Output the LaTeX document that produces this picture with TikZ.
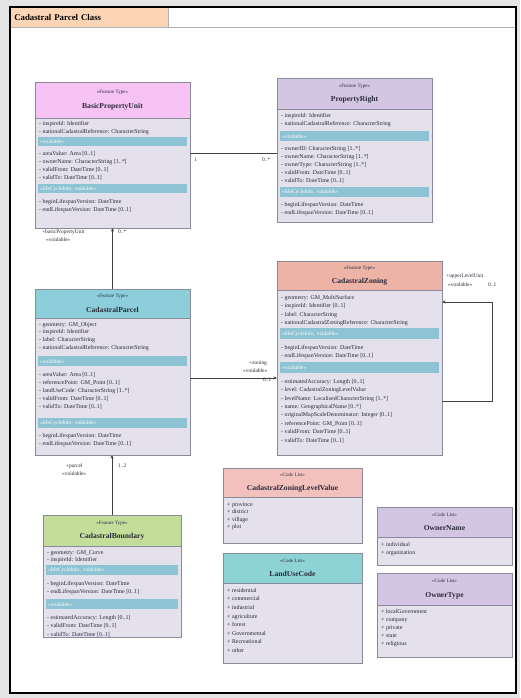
\documentclass[tikz,border=0pt]{standalone}
\usepackage{fontspec}
\setmainfont{Liberation Serif}
\usetikzlibrary{arrows.meta}
\definecolor{bodyc}{HTML}{E4E0EC}
\definecolor{barc}{HTML}{8EC3D3}
\definecolor{linec}{HTML}{8A8A9A}
\definecolor{txtc}{HTML}{2A2A3A}
\definecolor{hpink}{HTML}{F6C3F4}
\definecolor{hlav}{HTML}{D2C6E2}
\definecolor{hteal}{HTML}{8CCFDA}
\definecolor{hsalm}{HTML}{EEB3A7}
\definecolor{hgreen}{HTML}{C5DD9B}
\definecolor{hrose}{HTML}{F3C1BD}
\definecolor{hcyan}{HTML}{8DD3D6}
\definecolor{tabc}{HTML}{FBD5B5}
\tikzset{
  body/.style={draw=linec, fill=bodyc, line width=0.5pt, anchor=north west, inner sep=0, outer sep=0},
  head/.style={draw=linec, fill=#1, line width=0.5pt, anchor=north west, inner sep=0, outer sep=0, align=center, text=txtc},
  attr/.style={anchor=north west, inner sep=0, align=left, font=\fontsize{5.9}{#1}\selectfont, text=txtc},
  attr/.default=8,
  sbar/.style={fill=barc, anchor=north west, inner xsep=2pt, inner ysep=0, text width=#1, align=left, font=\fontsize{5.4}{6}\selectfont, text=white},
  conn/.style={draw=black!75, line width=0.6pt},
  tip/.style={-{Stealth[length=3.5pt,width=3pt]}},
  lbl/.style={inner sep=0, font=\fontsize{5.4}{6}\selectfont, text=txtc, anchor=west},
}
\newcommand{\hdr}[2]{{\fontsize{5}{6}\selectfont «#1»}\\[2.5pt]{\fontsize{7.6}{8}\selectfont\bfseries #2}}
\begin{document}
\begin{tikzpicture}[x=1pt,y=-1pt]
\useasboundingbox (0,0) rectangle (520,698);
\fill[black!10] (0,0) rectangle (520,698);
\fill[white] (10,7) rectangle (516,693);
\draw[black!30, line width=0.8pt] (10,27.5) -- (516,27.5);
\node[fill=tabc, draw=black!30, line width=0.5pt, anchor=north west, inner sep=0, minimum width=158, minimum height=20, text width=150, align=left, font=\fontsize{8.8}{9}\selectfont\bfseries] (title) at (10,7.5) {Cadastral Parcel Class};
\draw[black, line width=1.6pt] (10,7) rectangle (516,693);

% BasicPropertyUnit
\node[body, minimum width=155, minimum height=146] (bpu) at (35,82) {};
\node[head=hpink, minimum width=155, minimum height=36] (bpuh) at (35,82) {\hdr{Feature Type}{BasicPropertyUnit}};
\node[attr] (bpua1) at (39,121) {- inspireId: Identifier\\- nationalCadastralReference: CharacterString};
\node[sbar=145, minimum height=9] (bpub1) at (38,137) {«voidable»};
\node[attr] (bpua2) at (39,151) {- areaValue: Area [0..1]\\- ownerName: CharacterString [1..*]\\- validFrom: DateTime [0..1]\\- validTo: DateTime [0..1]};
\node[sbar=145, minimum height=9] (bpub2) at (38,184) {«lifeCycleInfo, voidable»};
\node[attr] (bpua3) at (39,199) {- beginLifespanVersion: DateTime\\- endLifespanVersion: DateTime [0..1]};

% PropertyRight
\node[body, minimum width=155, minimum height=144] (pr) at (277,78) {};
\node[head=hlav, minimum width=155, minimum height=31] (prh) at (277,78) {\hdr{Feature Type}{PropertyRight}};
\node[attr] (pra1) at (281,113) {- inspireId: Identifier\\- nationalCadastralReference: CharacterString};
\node[sbar=145, minimum height=10] (prb1) at (280,131) {«voidable»};
\node[attr] (pra2) at (281,146) {- ownerID: CharacterString [1..*]\\- ownerName: CharacterString [1..*]\\- ownerType: CharacterString [1..*]\\- validFrom: DateTime [0..1]\\- validTo: DateTime [0..1]};
\node[sbar=145, minimum height=10] (prb2) at (280,187) {«lifeCycleInfo, voidable»};
\node[attr] (pra3) at (281,202) {- beginLifespanVersion: DateTime\\- endLifespanVersion: DateTime [0..1]};

% CadastralParcel
\node[body, minimum width=155, minimum height=166] (parcel) at (35,289) {};
\node[head=hteal, minimum width=155, minimum height=29] (parcelh) at (35,289) {\hdr{Feature Type}{CadastralParcel}};
\node[attr=7.6] (pa1) at (39,322) {- geometry: GM\_Object\\- inspireId: Identifier\\- label: CharacterString\\- nationalCadastralReference: CharacterString};
\node[sbar=145, minimum height=10] (pb1) at (38,356) {«voidable»};
\node[attr] (pa2) at (39,372) {- areaValue: Area [0..1]\\- referencePoint: GM\_Point [0..1]\\- landUseCode: CharacterString [1..*]\\- validFrom: DateTime [0..1]\\- validTo: DateTime [0..1]};
\node[sbar=145, minimum height=10] (pb2) at (38,418) {«lifeCycleInfo, voidable»};
\node[attr] (pa3) at (39,433) {- beginLifespanVersion: DateTime\\- endLifespanVersion: DateTime [0..1]};

% CadastralZoning
\node[body, minimum width=165, minimum height=194] (zoning) at (277,261) {};
\node[head=hsalm, minimum width=165, minimum height=29] (zoningh) at (277,261) {\hdr{Feature Type}{CadastralZoning}};
\node[attr=8.4] (za1) at (281,295) {- geometry: GM\_MultiSurface\\- inspireId: Identifier [0..1]\\- label: CharacterString\\- nationalCadastralZoningReference: CharacterString};
\node[sbar=155, minimum height=11] (zb1) at (280,328) {«lifeCycleInfo, voidable»};
\node[attr=8.4] (za2) at (281,345) {- beginLifespanVersion: DateTime\\- endLifespanVersion: DateTime [0..1]};
\node[sbar=155, minimum height=11] (zb2) at (280,362) {«voidable»};
\node[attr=8.4] (za3) at (281,379) {- estimatedAccuracy: Length [0..1]\\- level: CadastralZoningLevelValue\\- levelName: LocalisedCharacterString [1..*]\\- name: GeographicalName [0..*]\\- originalMapScaleDenominator: Integer [0..1]\\- referencePoint: GM\_Point [0..1]\\- validFrom: DateTime [0..1]\\- validTo: DateTime [0..1]};

% CadastralBoundary
\node[body, minimum width=138, minimum height=122] (bnd) at (43,515) {};
\node[head=hgreen, minimum width=138, minimum height=31] (bndh) at (43,515) {\hdr{Feature Type}{CadastralBoundary}};
\node[attr=7.5] (ba1) at (47,550) {- geometry: GM\_Curve\\- inspireId: Identifier};
\node[sbar=128, minimum height=10] (bb1) at (46,565) {«lifeCycleInfo, voidable»};
\node[attr=8] (ba2) at (47,581) {- beginLifespanVersion: DateTime\\- endLifespanVersion: DateTime [0..1]};
\node[sbar=128, minimum height=10] (bb2) at (46,599) {«voidable»};
\node[attr=8.5] (ba3) at (47,615) {- estimatedAccuracy: Length [0..1]\\- validFrom: DateTime [0..1]\\- validTo: DateTime [0..1]};

% CadastralZoningLevelValue
\node[body, minimum width=139, minimum height=75] (zlv) at (223,468) {};
\node[head=hrose, minimum width=139, minimum height=29] (zlvh) at (223,468) {\hdr{Code List}{CadastralZoningLevelValue}};
\node[attr=7.5] (zlva) at (227,502) {+ province\\+ district\\+ village\\+ plot};

% LandUseCode
\node[body, minimum width=139, minimum height=110] (luc) at (223,553) {};
\node[head=hcyan, minimum width=139, minimum height=30] (luch) at (223,553) {\hdr{Code List}{LandUseCode}};
\node[attr=8.6] (luca) at (227,588) {+ residential\\+ commercial\\+ industrial\\+ agriculture\\+ forest\\+ Governmental\\+ Recreational\\+ other};

% OwnerName
\node[body, minimum width=135, minimum height=58] (own) at (377,507) {};
\node[head=hlav, minimum width=135, minimum height=30] (ownh) at (377,507) {\hdr{Code List}{OwnerName}};
\node[attr=8] (owna) at (381,542) {+ individual\\+ organization};

% OwnerType
\node[body, minimum width=135, minimum height=84] (owt) at (377,573) {};
\node[head=hlav, minimum width=135, minimum height=32] (owth) at (377,573) {\hdr{Code List}{OwnerType}};
\node[attr=8] (owta) at (381,609) {+ localGovernment\\+ company\\+ private\\+ state\\+ religious};

% connectors
\draw[conn] ([yshift=2pt]bpu.east) -- ([yshift=2pt]bpu.east -| pr.west);
\node[lbl] (m1) at (194,160) {1};
\node[lbl] (m2) at (262,160) {0..*};

\draw[conn,tip] (parcel.north) -- (bpu.south);
\node[lbl] (l1) at (42,232) {+basicPropertyUnit};
\node[lbl] (l2) at (46,240) {«voidable»};
\node[lbl] (l3) at (118,232) {0..*};

\draw[conn,tip] ([yshift=-6pt]parcel.east) -- ([yshift=-6pt]parcel.east -| zoning.west);
\node[lbl] (z1) at (249,363) {+zoning};
\node[lbl] (z2) at (243,371) {«voidable»};
\node[lbl] (z3) at (263,380) {0..1};

\draw[conn,tip] ([yshift=-43pt]zoning.east) -- ++(50,0) -- ++(0,-99) -- ++(-50,0);
\node[lbl] (u1) at (446,276) {+upperLevelUnit};
\node[lbl] (u2) at (448,285) {«voidable»};
\node[lbl] (u3) at (488,285) {0..1};

\draw[conn,tip] (bnd.north) -- (bnd.north |- parcel.south);
\node[lbl] (p1) at (66,466) {+parcel};
\node[lbl] (p2) at (62,474) {«voidable»};
\node[lbl] (p3) at (118,466) {1..2};
\end{tikzpicture}
\end{document}
